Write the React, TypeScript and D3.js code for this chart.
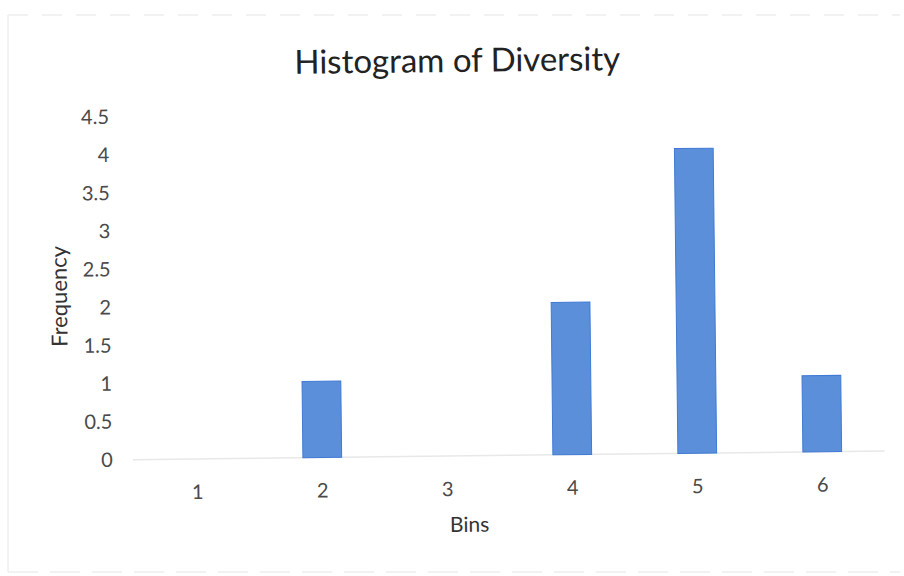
import React from "react";
import * as d3 from "d3";

// Histogram counts per bin
const bins: string[] = ["1", "2", "3", "4", "5", "6"];
const frequency: number[] = [0, 1, 0, 2, 4, 1];
const yTicks: number[] = [0, 0.5, 1, 1.5, 2, 2.5, 3, 3.5, 4, 4.5];

const W = 904;
const H = 576;
const FONT = "Lato, 'Open Sans', sans-serif";

export default function App() {
  const x = d3
    .scaleBand<string>()
    .domain(bins)
    .range([133, 883])
    .paddingInner(0.69)
    .paddingOuter(0.345);
  const y = d3.scaleLinear().domain([0, 4.5]).range([456, 113]);
  const fmt = d3.format("~g");

  return (
    <svg
      width={W}
      height={H}
      style={{ position: "absolute", left: 0, top: 0, background: "#fff" }}
    >
      {/* chart area border */}
      <line x1={8} y1={15} x2={8} y2={572} stroke="#e6e6e6" strokeWidth={1} />
      <line x1={8} y1={15} x2={900} y2={15} stroke="#eeeeee" strokeWidth={1.5} strokeDasharray="20 14" />
      <line x1={8} y1={572} x2={900} y2={572} stroke="#eeeeee" strokeWidth={1.5} strokeDasharray="30 12" />

      <g transform="rotate(-0.65, 452, 300)">
        <text
          x={460}
          y={72}
          textAnchor="middle"
          fontFamily={FONT}
          fontSize={33}
          fill="#222"
        >
          Histogram of Diversity
        </text>

        {/* value axis labels */}
        {yTicks.map((t) => (
          <text
            key={t}
            x={111}
            y={y(t) + 7}
            textAnchor="end"
            fontFamily={FONT}
            fontSize={20}
            fill="#4a4a4a"
          >
            {fmt(t)}
          </text>
        ))}

        {/* category axis line */}
        <line x1={131} y1={y(0)} x2={883} y2={y(0)} stroke="#e8e8e8" strokeWidth={1.5} />

        {/* bars */}
        {bins.map((b, i) =>
          frequency[i] > 0 ? (
            <rect
              key={b}
              x={x(b)!}
              y={y(frequency[i])}
              width={x.bandwidth()}
              height={y(0) - y(frequency[i])}
              fill="#5b8fda"
              stroke="#3f7ad4"
              strokeWidth={1}
            />
          ) : null
        )}

        {/* category labels */}
        {bins.map((b) => (
          <text
            key={b}
            x={x(b)! + x.bandwidth() / 2}
            y={496}
            textAnchor="middle"
            fontFamily={FONT}
            fontSize={20}
            fill="#4a4a4a"
          >
            {b}
          </text>
        ))}

        <text
          x={467}
          y={532}
          textAnchor="middle"
          fontFamily={FONT}
          fontSize={21}
          fill="#333"
        >
          Bins
        </text>
        <text
          transform={`translate(67, 292) rotate(-90)`}
          textAnchor="middle"
          fontFamily={FONT}
          fontSize={22}
          fill="#333"
        >
          Frequency
        </text>
      </g>
    </svg>
  );
}
